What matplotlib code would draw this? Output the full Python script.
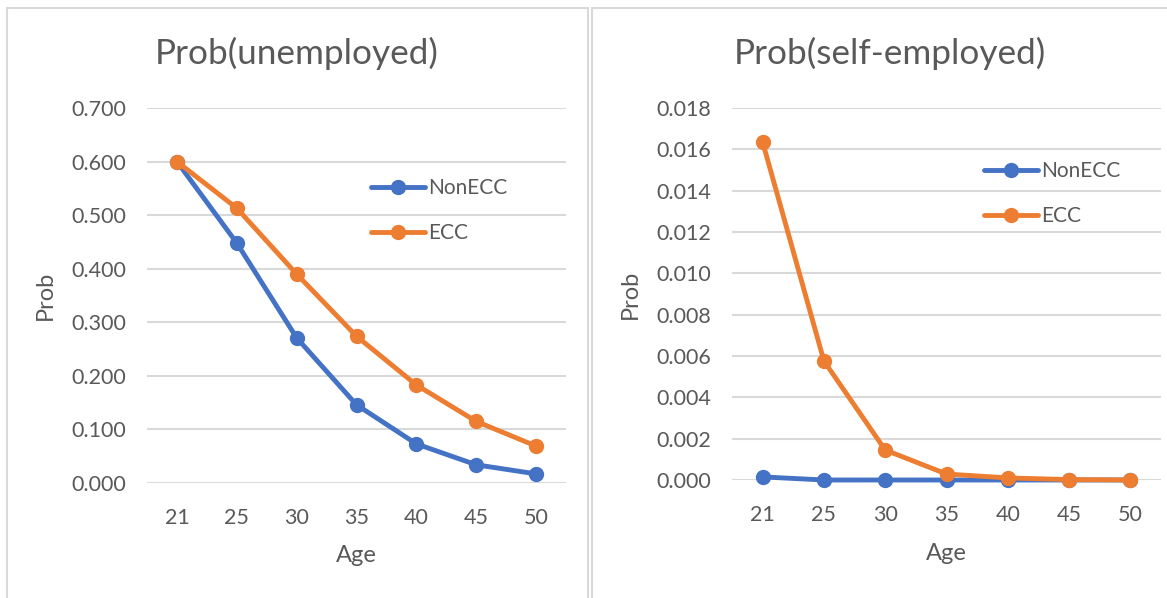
import matplotlib.pyplot as plt
from matplotlib.patches import Rectangle

ages = ['21', '25', '30', '35', '40', '45', '50']

# Prob(unemployed)
unemp_non_ecc = [0.600, 0.448, 0.271, 0.146, 0.073, 0.034, 0.017]
unemp_ecc = [0.600, 0.513, 0.390, 0.274, 0.183, 0.115, 0.069]

# Prob(self-employed)
self_non_ecc = [0.00015, 0.0, 0.0, 0.0, 0.0, 0.0, 0.0]
self_ecc = [0.01635, 0.00576, 0.00145, 0.00029, 0.0001, 0.00002, 0.0]

BLUE = '#4472C4'
ORANGE = '#ED7D31'
TEXT = '#595959'
GRID = '#D9D9D9'

plt.rcParams['font.family'] = ['Lato', 'DejaVu Sans']

W, H = 1167, 598
fig = plt.figure(figsize=(W / 100, H / 100), dpi=100)

# chart frames
for x0, w in [(7, 581), (592, 580)]:
    fig.patches.append(Rectangle((x0 / W, -0.01), w / W, 590 / H + 0.01,
                                 transform=fig.transFigure, fill=False,
                                 edgecolor=GRID, linewidth=1.5))


def draw(ax, non_ecc, ecc, top, step, title, title_x, legend_xy, ylab_x, xlab_y):
    x = range(len(ages))
    for vals, col, lab in [(non_ecc, BLUE, 'NonECC'), (ecc, ORANGE, 'ECC')]:
        ax.plot(x, vals, color=col, lw=3.5, marker='o', ms=10, label=lab,
                solid_capstyle='round', solid_joinstyle='round', clip_on=False)
    ax.set_xlim(-0.5, len(ages) - 0.5)
    ax.set_ylim(0, top)
    n = int(round(top / step))
    ticks = [i * step for i in range(n + 1)]
    ax.set_yticks(ticks)
    ax.set_yticklabels(['{:.3f}'.format(t) for t in ticks])
    ax.set_xticks(list(x))
    ax.set_xticklabels(ages)
    ax.grid(axis='y', color=GRID, lw=1.5)
    ax.set_axisbelow(True)
    for s in ax.spines.values():
        s.set_visible(False)
    ax.tick_params(length=0, labelsize=15.5, colors=TEXT)
    ax.tick_params(axis='x', pad=18)
    ax.tick_params(axis='y', pad=15)
    ax.set_xlabel('Age', fontsize=17, color=TEXT)
    ax.set_ylabel('Prob', fontsize=17, color=TEXT)
    ax.xaxis.set_label_coords(0.5, xlab_y)
    ax.yaxis.set_label_coords(ylab_x, 0.5)
    fig.text(title_x / W, 1 - 53 / H, title, fontsize=25.3, color=TEXT,
             ha='center', va='center')
    ax.legend(loc='center left', bbox_to_anchor=legend_xy, frameon=False,
              fontsize=15, labelcolor=TEXT, handlelength=2.6, handletextpad=0.15,
              labelspacing=1.2, borderaxespad=0, borderpad=0)


ax1 = fig.add_axes([147 / W, 115 / H, 419 / W, 375 / H])
draw(ax1, unemp_non_ecc, unemp_ecc, 0.7, 0.1, 'Prob(unemployed)', 297,
     (0.535, 0.727), -0.217, -0.165)

ax2 = fig.add_axes([732 / W, 118 / H, 429 / W, 372 / H])
draw(ax2, self_non_ecc, self_ecc, 0.018, 0.002, 'Prob(self-employed)', 890,
     (0.587, 0.769), -0.212, -0.169)

fig.savefig('out.png', dpi=100)
